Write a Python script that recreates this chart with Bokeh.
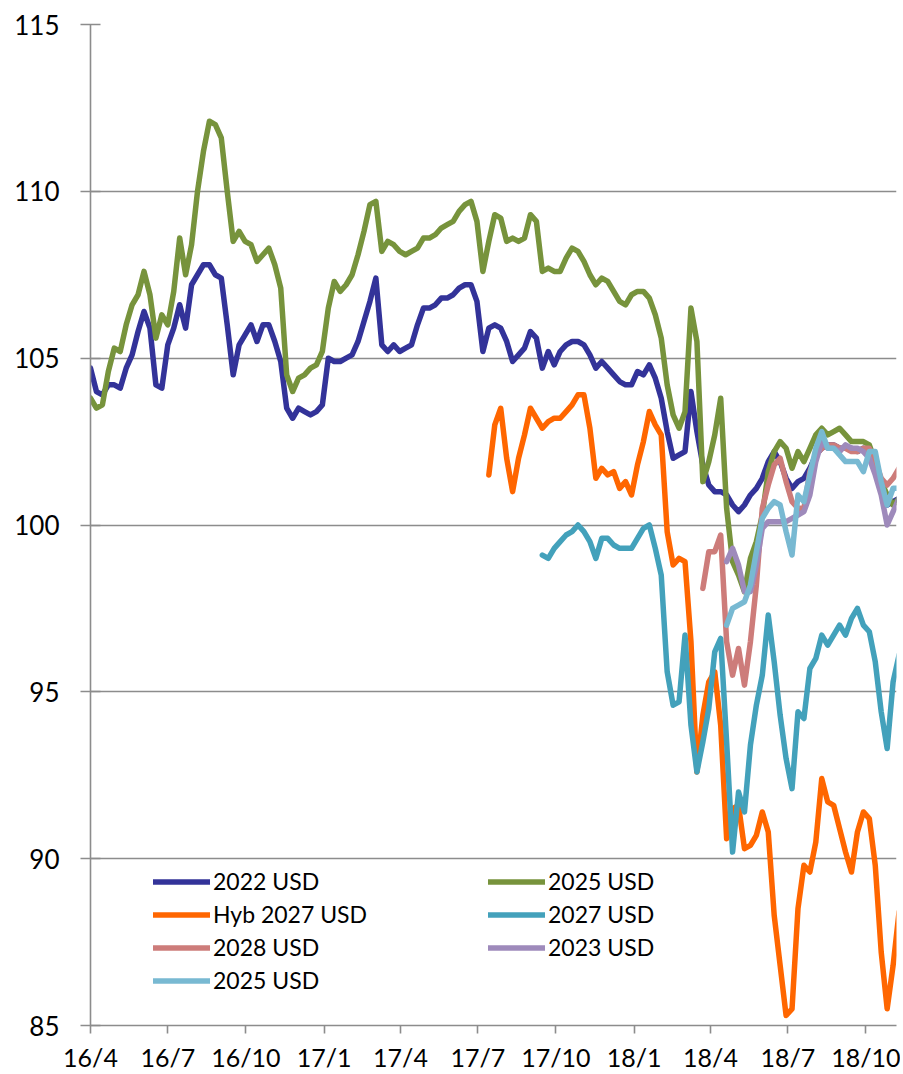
import pandas as pd
from bokeh.plotting import figure
from bokeh.models import Range1d, FixedTicker, Legend, LegendItem
from bokeh.embed import file_html
from bokeh.resources import INLINE

# weekly observation grid (all series end on the last week)
week_start = "2016-04-01"
n_weeks = 137
dates = pd.date_range(week_start, periods=n_weeks, freq="7D")

tick_dates = ["2016-04-01", "2016-07-01", "2016-10-01", "2017-01-01", "2017-04-01", "2017-07-01",
              "2017-10-01", "2018-01-01", "2018-04-01", "2018-07-01", "2018-10-01"]
tick_labels = ["16/4", "16/7", "16/10", "17/1", "17/4", "17/7", "17/10", "18/1", "18/4", "18/7", "18/10"]
y_ticks = [85, 90, 95, 100, 105, 110, 115]
grid_ticks = [90, 95, 100, 105, 110]

usd_2022 = [
    104.7, 104.0, 103.9, 104.2, 104.2, 104.1, 104.7, 105.1, 105.8, 106.4,
    105.9, 104.2, 104.1, 105.4, 105.9, 106.6, 105.9, 107.2, 107.5, 107.8,
    107.8, 107.5, 107.4, 106.0, 104.5, 105.4, 105.7, 106.0, 105.5, 106.0,
    106.0, 105.5, 104.9, 103.5, 103.2, 103.5, 103.4, 103.3, 103.4, 103.6,
    105.0, 104.9, 104.9, 105.0, 105.1, 105.5, 106.1, 106.7, 107.4, 105.4,
    105.2, 105.4, 105.2, 105.3, 105.4, 106.0, 106.5, 106.5, 106.6, 106.8,
    106.8, 106.9, 107.1, 107.2, 107.2, 106.7, 105.2, 105.9, 106.0, 105.9,
    105.5, 104.9, 105.1, 105.3, 105.8, 105.6, 104.7, 105.2, 104.8, 105.2,
    105.4, 105.5, 105.5, 105.4, 105.1, 104.7, 104.9, 104.7, 104.5, 104.3,
    104.2, 104.2, 104.6, 104.5, 104.8, 104.4, 103.8, 102.8, 102.0, 102.1,
    102.2, 104.0, 102.8, 101.8, 101.2, 101.0, 101.0, 100.9, 100.6, 100.4,
    100.6, 100.9, 101.1, 101.4, 101.9, 102.2, 101.9, 101.4, 101.1, 101.3,
    101.4, 101.7, 102.1, 102.3, 102.4, 102.4, 102.3, 102.3, 102.3, 102.2,
    102.3, 102.2, 101.6, 101.0, 100.6, 100.7, 100.8,
]

usd_2025 = [
    103.8, 103.5, 103.6, 104.6, 105.3, 105.2, 106.0, 106.6, 106.9, 107.6,
    106.9, 105.6, 106.3, 106.0, 107.0, 108.6, 107.5, 108.4, 110.0, 111.2,
    112.1, 112.0, 111.6, 110.0, 108.5, 108.8, 108.5, 108.4, 107.9, 108.1,
    108.3, 107.8, 107.1, 104.5, 104.0, 104.4, 104.5, 104.7, 104.8, 105.2,
    106.5, 107.3, 107.0, 107.2, 107.5, 108.1, 108.8, 109.6, 109.7, 108.2,
    108.5, 108.4, 108.2, 108.1, 108.2, 108.3, 108.6, 108.6, 108.7, 108.9,
    109.0, 109.1, 109.4, 109.6, 109.7, 109.1, 107.6, 108.5, 109.3, 109.2,
    108.5, 108.6, 108.5, 108.6, 109.3, 109.1, 107.6, 107.7, 107.6, 107.6,
    108.0, 108.3, 108.2, 107.9, 107.5, 107.2, 107.4, 107.3, 107.0, 106.7,
    106.6, 106.9, 107.0, 107.0, 106.8, 106.3, 105.6, 104.2, 103.3, 102.9,
    103.4, 106.5, 105.5, 101.3, 101.9, 102.7, 103.8, 100.5, 98.9, 98.5,
    98.0, 99.0, 99.5, 100.3, 101.6, 102.2, 102.5, 102.3, 101.7, 102.2,
    101.9, 102.3, 102.7, 102.9, 102.7, 102.8, 102.9, 102.7, 102.5, 102.5,
    102.5, 102.4, 101.9, 101.3, 100.9, 100.6, 100.8,
]

hyb_2027 = [
    101.5, 103.0, 103.5, 102.0, 101.0, 102.0, 102.7, 103.5, 103.2, 102.9,
    103.1, 103.2, 103.2, 103.4, 103.6, 103.9, 103.9, 102.9, 101.4, 101.7,
    101.5, 101.6, 101.1, 101.3, 100.9, 101.8, 102.5, 103.4, 103.0, 102.7,
    99.8, 98.8, 99.0, 98.9, 96.5, 92.6, 94.3, 95.3, 95.6, 94.0,
    90.6, 91.5, 91.6, 90.3, 90.4, 90.7, 91.4, 90.8, 88.3, 86.8,
    85.3, 85.5, 88.5, 89.8, 89.6, 90.5, 92.4, 91.7, 91.6, 90.9,
    90.2, 89.6, 90.8, 91.4, 91.2, 89.8, 87.2, 85.5, 86.8, 88.4,
]

usd_2027 = [
    99.1, 99.0, 99.3, 99.5, 99.7, 99.8, 100.0, 99.8, 99.5, 99.0,
    99.6, 99.6, 99.4, 99.3, 99.3, 99.3, 99.6, 99.9, 100.0, 99.3,
    98.5, 95.6, 94.6, 94.7, 96.7, 94.0, 92.6, 93.5, 94.5, 96.2,
    96.6, 93.5, 90.2, 92.0, 91.4, 93.4, 94.6, 95.5, 97.3, 95.9,
    94.3, 93.0, 92.1, 94.4, 94.2, 95.7, 96.0, 96.7, 96.4, 96.7,
    97.0, 96.7, 97.2, 97.5, 97.0, 96.8, 95.9, 94.4, 93.3, 95.3,
    96.1,
]

usd_2028 = [
    98.1, 99.2, 99.2, 99.7, 96.5, 95.5, 96.3, 95.2, 96.5, 98.2,
    100.5, 101.2, 101.8, 102.0, 101.3, 100.7, 100.5, 100.5, 101.6, 102.1,
    102.3, 102.4, 102.4, 102.3, 102.3, 102.2, 102.2, 102.3, 102.3, 101.9,
    101.4, 101.2, 101.4, 101.7,
]

usd_2023 = [
    98.9, 99.3, 98.8, 98.0, 98.0, 98.8, 99.9, 100.1, 100.1, 100.1,
    100.1, 100.2, 100.3, 100.4, 100.9, 101.9, 102.5, 102.3, 102.3, 102.2,
    102.4, 102.3, 102.3, 102.2, 102.0, 101.5, 100.9, 100.0, 100.4, 100.8,
]

usd_2025b = [
    97.0, 97.5, 97.6, 97.7, 98.2, 99.2, 100.2, 100.5, 100.7, 100.6,
    99.8, 99.1, 100.9, 100.7, 101.5, 102.3, 102.8, 102.3, 102.3, 102.1,
    101.9, 101.9, 101.9, 101.6, 102.2, 102.2, 101.3, 100.6, 101.1, 101.1,
]

series = [
    ("2022 USD", "#333399", usd_2022),
    ("2025 USD", "#77933C", usd_2025),
    ("Hyb 2027 USD", "#FF6600", hyb_2027),
    ("2027 USD", "#43A1BB", usd_2027),
    ("2028 USD", "#CD7C7A", usd_2028),
    ("2023 USD", "#9E8ABB", usd_2023),
    ("2025 USD", "#78B9D2", usd_2025b),
]

FONT = "Lato"
AXIS_GRAY = "#8C8C8C"

p = figure(width=900, height=1074, x_axis_type="datetime",
           x_range=Range1d(pd.Timestamp("2016-04-01"), pd.Timestamp("2018-11-06")),
           y_range=Range1d(85, 115),
           output_backend="svg", toolbar_location=None,
           min_border_left=90, min_border_right=4, min_border_top=24, min_border_bottom=49)
p.outline_line_color = None
p.background_fill_color = "white"

renderers = {}
for i, (name, color, vals) in enumerate(series):
    d = dates[-len(vals):]
    r = p.line(x=d, y=vals, line_color=color, line_width=5.5,
               line_join="round", line_cap="round")
    renderers[i] = r

# grid
p.xgrid.visible = False
p.ygrid.ticker = FixedTicker(ticks=grid_ticks)
p.ygrid.grid_line_color = AXIS_GRAY
p.ygrid.grid_line_width = 1.6

# x axis
tick_ms = [pd.Timestamp(t).value / 1e6 for t in tick_dates]
p.xaxis.ticker = FixedTicker(ticks=tick_ms)
p.xaxis.major_label_overrides = {ms: lab for ms, lab in zip(tick_ms, tick_labels)}
p.xaxis.axis_line_color = AXIS_GRAY
p.xaxis.axis_line_width = 1.6
p.xaxis.major_tick_line_color = AXIS_GRAY
p.xaxis.major_tick_line_width = 1.6
p.xaxis.major_tick_in = 0
p.xaxis.major_tick_out = 8
p.xaxis.minor_tick_line_color = None
p.xaxis.major_label_text_font = FONT
p.xaxis.major_label_text_font_size = "25px"
p.xaxis.major_label_text_color = "black"
p.xaxis.major_label_text_line_height = 1.0
p.xaxis.major_label_standoff = 8

# y axis
p.yaxis.ticker = FixedTicker(ticks=y_ticks)
p.yaxis.axis_line_color = AXIS_GRAY
p.yaxis.axis_line_width = 1.6
p.yaxis.major_tick_line_color = AXIS_GRAY
p.yaxis.major_tick_line_width = 1.6
p.yaxis.major_tick_in = 10
p.yaxis.major_tick_out = 10
p.yaxis.minor_tick_line_color = None
p.yaxis.major_label_text_font = FONT
p.yaxis.major_label_text_font_size = "26px"
p.yaxis.major_label_text_color = "black"
p.yaxis.major_label_standoff = 21

def make_legend(idx, loc):
    items = [LegendItem(label=series[i][0], renderers=[renderers[i]]) for i in idx]
    lg = Legend(items=items, location=loc, orientation="vertical",
                label_text_font=FONT, label_text_font_size="23px",
                label_text_color="black",
                glyph_width=57, glyph_height=27, label_height=27,
                label_standoff=3, spacing=5, padding=0, margin=0,
                border_line_color=None, background_fill_alpha=0)
    return lg

p.add_layout(make_legend([0, 2, 4, 6], (63, 31)), "center")
p.add_layout(make_legend([1, 3, 5], (398, 64)), "center")

open("out.html", "w").write(file_html(p, INLINE))
